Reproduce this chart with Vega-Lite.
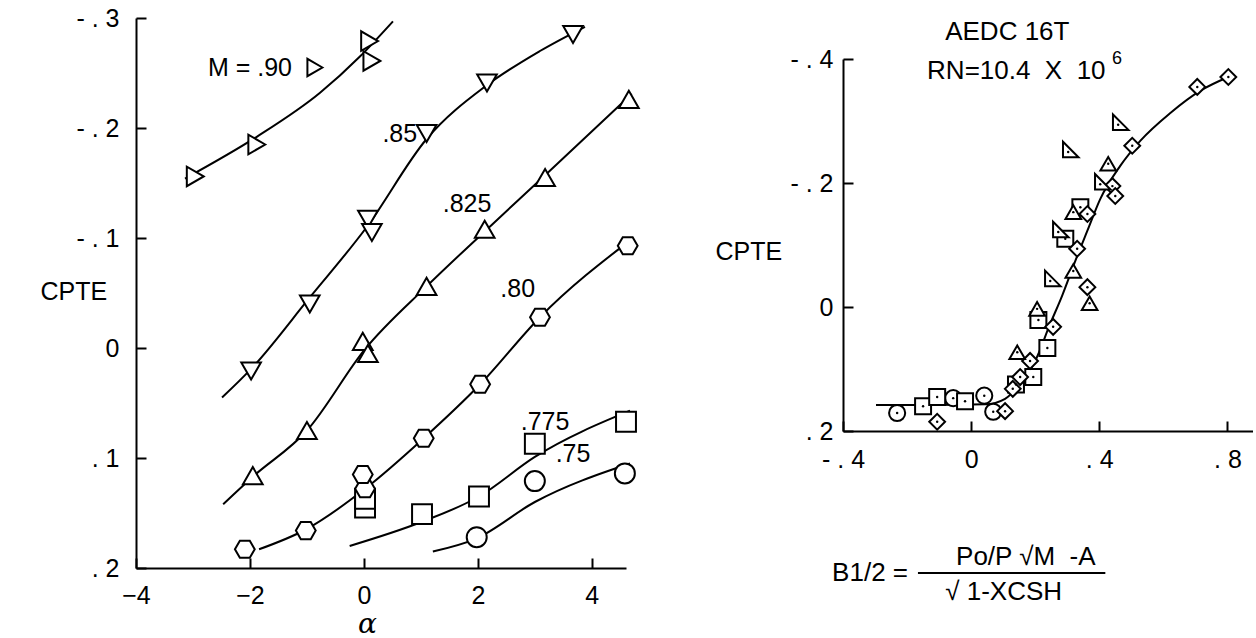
{
  "$schema": "https://vega.github.io/schema/vega-lite/v6.json",
  "background": "white",
  "padding": {"left": 40, "top": 6, "right": 0, "bottom": 0},
  "config": {
    "view": {"stroke": null},
    "font": "Liberation Sans",
    "axis": {
      "domainColor": "black", "domainWidth": 2,
      "tickColor": "black", "tickWidth": 2,
      "labelColor": "black", "labelFont": "Liberation Sans", "labelFontSize": 25,
      "grid": false, "labelFlush": false, "labelOverlap": false,
      "titleColor": "black", "titleFont": "Liberation Sans", "titleFontSize": 25, "titleFontWeight": "normal"
    }
  },
  "resolve": {"scale": {"shape": "independent", "size": "independent"}},
  "datasets": {
    "leftPts": [
      {"a": -2.96, "cpte": -0.156, "m": ".90"},
      {"a": -1.88, "cpte": -0.185, "m": ".90"},
      {"a": 0.1, "cpte": -0.279, "m": ".90"},
      {"a": 0.14, "cpte": -0.261, "m": ".90"},
      {"a": -1.98, "cpte": 0.021, "m": ".85"},
      {"a": -0.95, "cpte": -0.04, "m": ".85"},
      {"a": 0.07, "cpte": -0.117, "m": ".85"},
      {"a": 0.14, "cpte": -0.105, "m": ".85"},
      {"a": 1.1, "cpte": -0.195, "m": ".85"},
      {"a": 2.16, "cpte": -0.241, "m": ".85"},
      {"a": 3.67, "cpte": -0.285, "m": ".85"},
      {"a": -1.95, "cpte": 0.116, "m": ".825"},
      {"a": -1.0, "cpte": 0.075, "m": ".825"},
      {"a": -0.02, "cpte": -0.006, "m": ".825"},
      {"a": 0.07, "cpte": 0.005, "m": ".825"},
      {"a": 1.1, "cpte": -0.056, "m": ".825"},
      {"a": 2.12, "cpte": -0.108, "m": ".825"},
      {"a": 3.18, "cpte": -0.155, "m": ".825"},
      {"a": 4.65, "cpte": -0.226, "m": ".825"},
      {"a": -2.09, "cpte": 0.183, "m": ".80"},
      {"a": -1.02, "cpte": 0.166, "m": ".80"},
      {"a": 0.02, "cpte": 0.145, "m": ".775"},
      {"a": 0.02, "cpte": 0.137, "m": ".775"},
      {"a": 0.02, "cpte": 0.128, "m": ".80"},
      {"a": -0.02, "cpte": 0.115, "m": ".80"},
      {"a": 1.05, "cpte": 0.082, "m": ".80"},
      {"a": 2.04, "cpte": 0.033, "m": ".80"},
      {"a": 3.09, "cpte": -0.028, "m": ".80"},
      {"a": 4.63, "cpte": -0.093, "m": ".80"},
      {"a": 1.02, "cpte": 0.151, "m": ".775"},
      {"a": 2.02, "cpte": 0.135, "m": ".775"},
      {"a": 3.0, "cpte": 0.087, "m": ".775"},
      {"a": 4.6, "cpte": 0.067, "m": ".775"},
      {"a": 1.98, "cpte": 0.172, "m": ".75"},
      {"a": 3.0, "cpte": 0.121, "m": ".75"},
      {"a": 4.58, "cpte": 0.114, "m": ".75"}
    ],
    "leftKey": [
      {"a": -0.86, "cpte": -0.255, "m": ".90"}
    ],
    "leftCurves": [
      {"a": -3.14, "cpte": -0.154, "m": ".90"},
      {"a": -1.88, "cpte": -0.192, "m": ".90"},
      {"a": -0.77, "cpte": -0.232, "m": ".90"},
      {"a": -0.07, "cpte": -0.265, "m": ".90"},
      {"a": 0.51, "cpte": -0.297, "m": ".90"},
      {"a": -2.49, "cpte": 0.045, "m": ".85"},
      {"a": -1.98, "cpte": 0.019, "m": ".85"},
      {"a": -0.95, "cpte": -0.046, "m": ".85"},
      {"a": 0.05, "cpte": -0.11, "m": ".85"},
      {"a": 1.1, "cpte": -0.19, "m": ".85"},
      {"a": 2.16, "cpte": -0.239, "m": ".85"},
      {"a": 3.09, "cpte": -0.27, "m": ".85"},
      {"a": 3.88, "cpte": -0.292, "m": ".85"},
      {"a": -2.47, "cpte": 0.142, "m": ".825"},
      {"a": -1.95, "cpte": 0.117, "m": ".825"},
      {"a": -1.0, "cpte": 0.075, "m": ".825"},
      {"a": 0.02, "cpte": 0.001, "m": ".825"},
      {"a": 1.1, "cpte": -0.056, "m": ".825"},
      {"a": 2.12, "cpte": -0.106, "m": ".825"},
      {"a": 3.18, "cpte": -0.157, "m": ".825"},
      {"a": 4.7, "cpte": -0.231, "m": ".825"},
      {"a": -1.84, "cpte": 0.183, "m": ".80"},
      {"a": -1.02, "cpte": 0.165, "m": ".80"},
      {"a": 0.02, "cpte": 0.128, "m": ".80"},
      {"a": 1.05, "cpte": 0.082, "m": ".80"},
      {"a": 2.04, "cpte": 0.033, "m": ".80"},
      {"a": 3.09, "cpte": -0.028, "m": ".80"},
      {"a": 4.7, "cpte": -0.099, "m": ".80"},
      {"a": -0.25, "cpte": 0.18, "m": ".775"},
      {"a": 1.02, "cpte": 0.158, "m": ".775"},
      {"a": 2.02, "cpte": 0.135, "m": ".775"},
      {"a": 3.0, "cpte": 0.099, "m": ".775"},
      {"a": 4.67, "cpte": 0.057, "m": ".775"},
      {"a": 1.21, "cpte": 0.185, "m": ".75"},
      {"a": 1.98, "cpte": 0.173, "m": ".75"},
      {"a": 3.0, "cpte": 0.14, "m": ".75"},
      {"a": 4.67, "cpte": 0.105, "m": ".75"}
    ],
    "leftLabels": [
      {"a": -2.0, "cpte": -0.255, "label": "M = .90"},
      {"a": 0.63, "cpte": -0.195, "label": ".85"},
      {"a": 1.81, "cpte": -0.131, "label": ".825"},
      {"a": 2.7, "cpte": -0.054, "label": ".80"},
      {"a": 3.18, "cpte": 0.067, "label": ".775"},
      {"a": 3.67, "cpte": 0.096, "label": ".75"}
    ],
    "rightPts": [
      {"b": -0.231, "cpte": 0.171, "s": "circle"},
      {"b": -0.056, "cpte": 0.147, "s": "circle"},
      {"b": 0.041, "cpte": 0.143, "s": "circle"},
      {"b": 0.069, "cpte": 0.169, "s": "circle"},
      {"b": -0.15, "cpte": 0.16, "s": "square"},
      {"b": -0.106, "cpte": 0.145, "s": "square"},
      {"b": -0.019, "cpte": 0.152, "s": "square"},
      {"b": 0.14, "cpte": 0.125, "s": "square"},
      {"b": 0.194, "cpte": 0.113, "s": "square"},
      {"b": 0.238, "cpte": 0.066, "s": "square"},
      {"b": 0.21, "cpte": 0.021, "s": "square"},
      {"b": 0.341, "cpte": -0.161, "s": "square"},
      {"b": 0.294, "cpte": -0.11, "s": "square"},
      {"b": -0.106, "cpte": 0.185, "s": "diamond"},
      {"b": 0.106, "cpte": 0.168, "s": "diamond"},
      {"b": 0.13, "cpte": 0.132, "s": "diamond"},
      {"b": 0.153, "cpte": 0.113, "s": "diamond"},
      {"b": 0.184, "cpte": 0.087, "s": "diamond"},
      {"b": 0.256, "cpte": 0.032, "s": "diamond"},
      {"b": 0.503, "cpte": -0.26, "s": "diamond"},
      {"b": 0.441, "cpte": -0.195, "s": "diamond"},
      {"b": 0.45, "cpte": -0.179, "s": "diamond"},
      {"b": 0.363, "cpte": -0.15, "s": "diamond"},
      {"b": 0.331, "cpte": -0.094, "s": "diamond"},
      {"b": 0.363, "cpte": -0.032, "s": "diamond"},
      {"b": 0.706, "cpte": -0.355, "s": "diamond"},
      {"b": 0.803, "cpte": -0.371, "s": "diamond"},
      {"b": 0.144, "cpte": 0.073, "s": "triangle"},
      {"b": 0.206, "cpte": 0.003, "s": "triangle"},
      {"b": 0.428, "cpte": -0.231, "s": "triangle"},
      {"b": 0.319, "cpte": -0.153, "s": "triangle"},
      {"b": 0.319, "cpte": -0.058, "s": "triangle"},
      {"b": 0.37, "cpte": -0.006, "s": "triangle"},
      {"b": 0.247, "cpte": -0.042, "s": "rtri"},
      {"b": 0.459, "cpte": -0.294, "s": "rtri"},
      {"b": 0.303, "cpte": -0.25, "s": "rtri"},
      {"b": 0.403, "cpte": -0.198, "s": "rtri"},
      {"b": 0.272, "cpte": -0.121, "s": "rtri"}
    ],
    "rightCurve": [
      {"b": -0.297, "cpte": 0.158},
      {"b": -0.128, "cpte": 0.158},
      {"b": 0.044, "cpte": 0.157},
      {"b": 0.106, "cpte": 0.148},
      {"b": 0.153, "cpte": 0.124},
      {"b": 0.2, "cpte": 0.087},
      {"b": 0.247, "cpte": 0.027},
      {"b": 0.284, "cpte": -0.018},
      {"b": 0.325, "cpte": -0.074},
      {"b": 0.363, "cpte": -0.123},
      {"b": 0.403, "cpte": -0.174},
      {"b": 0.466, "cpte": -0.228},
      {"b": 0.528, "cpte": -0.268},
      {"b": 0.622, "cpte": -0.313},
      {"b": 0.716, "cpte": -0.349},
      {"b": 0.803, "cpte": -0.371}
    ],
    "rightText": [
      {"b": -0.081, "cpte": -0.444, "label": "AEDC 16T"},
      {"b": -0.1375, "cpte": -0.381, "label": "RN=10.4\u00a0 X\u00a0 10"},
      {"b": -0.434, "cpte": 0.429, "label": "B1/2 ="},
      {"b": -0.047, "cpte": 0.403, "label": "Po/P \u221aM\u00a0 -A"},
      {"b": -0.081, "cpte": 0.46, "label": "\u221a 1-XCSH"}
    ],
    "rightSup": [
      {"b": 0.44, "cpte": -0.4, "label": "6"}
    ],
    "rightFrac": [
      {"b": -0.166, "b2": 0.419, "cpte": 0.429}
    ]
  },
  "hconcat": [
    {
      "width": 490,
      "height": 550,
      "encoding": {
        "x": {
          "field": "a", "type": "quantitative",
          "scale": {"domain": [-4, 4.6], "nice": false, "zero": false},
          "axis": {
            "values": [-4, -2, 0, 2, 4], "format": "d", "tickSize": -10, "tickWidth": 2, "tickColor": "black", "labelPadding": 25,
            "title": "α", "titleFont": "DejaVu Serif", "titleFontStyle": "italic", "titleFontSize": 28,
            "titleX": 231, "titleY": 56, "titleAlign": "center", "titleBaseline": "middle"
          }
        },
        "y": {
          "field": "cpte", "type": "quantitative",
          "scale": {"domain": [-0.3, 0.2], "reverse": true, "nice": false, "zero": false},
          "axis": {
            "values": [-0.3, -0.2, -0.1, 0, 0.1, 0.2], "tickSize": -10, "tickWidth": 2, "tickColor": "black", "labelPadding": 27,
            "labelExpr": "datum.value == 0 ? '0' : (datum.value < 0 ? '- . ' : '. ') + replace(format(abs(datum.value), '.1f'), '0.', '')",
            "title": "CPTE", "titleAngle": 0, "titleX": -96, "titleY": 273, "titleAlign": "left", "titleBaseline": "middle"
          }
        }
      },
      "layer": [
        {
          "data": {"name": "leftCurves"},
          "mark": {"type": "line", "interpolate": "monotone", "color": "black", "strokeWidth": 2},
          "encoding": {"detail": {"field": "m", "type": "nominal"}}
        },
        {
          "data": {"name": "leftPts"},
          "mark": {"type": "point", "filled": true, "fill": "white", "stroke": "black", "strokeWidth": 2, "opacity": 1},
          "encoding": {
            "shape": {"field": "m", "type": "nominal", "legend": null,
              "scale": {"domain": [".90", ".85", ".825", ".80", ".775", ".75"],
                "range": ["triangle-right", "triangle-down", "triangle-up", "M-1,0L-0.5,-0.866L0.5,-0.866L1,0L0.5,0.866L-0.5,0.866Z", "square", "circle"]}},
            "size": {"field": "m", "type": "nominal", "legend": null,
              "scale": {"domain": [".90", ".85", ".825", ".80", ".775", ".75"], "range": [380, 400, 420, 420, 170, 200]}}
          }
        },
        {
          "data": {"name": "leftKey"},
          "mark": {"type": "point", "shape": "triangle-right", "size": 300, "filled": true, "fill": "white", "stroke": "black", "strokeWidth": 2, "opacity": 1},
          "encoding": {}
        },
        {
          "data": {"name": "leftLabels"},
          "mark": {"type": "text", "font": "Liberation Sans", "fontSize": 25, "color": "black", "align": "center", "baseline": "middle"},
          "encoding": {"text": {"field": "label"}}
        }
      ]
    },
    {
      "vconcat": [
        {
          "width": 410,
          "height": 41,
          "data": {"values": [{}]},
          "mark": {"type": "text"},
          "encoding": {"text": {"value": ""}}
        },
        {
          "width": 410,
          "height": 372,
          "encoding": {
            "x": {
              "field": "b", "type": "quantitative",
              "scale": {"domain": [-0.4, 0.88], "nice": false, "zero": false},
              "axis": {
                "values": [-0.4, 0, 0.4, 0.8], "tickSize": -10, "tickWidth": 2, "tickColor": "black", "labelPadding": 26, "title": null,
                "labelExpr": "datum.value == 0 ? '0' : (datum.value < 0 ? '- . ' : '. ') + replace(format(abs(datum.value), '.1f'), '0.', '')"
              }
            },
            "y": {
              "field": "cpte", "type": "quantitative",
              "scale": {"domain": [-0.4, 0.2], "reverse": true, "nice": false, "zero": false},
              "axis": {
                "values": [-0.4, -0.2, 0, 0.2], "tickSize": -10, "tickWidth": 2, "tickColor": "black", "labelPadding": 20,
                "labelExpr": "datum.value == 0 ? '0' : (datum.value < 0 ? '- . ' : '. ') + replace(format(abs(datum.value), '.1f'), '0.', '')",
                "title": "CPTE", "titleAngle": 0, "titleX": -128, "titleY": 192, "titleAlign": "left", "titleBaseline": "middle"
              }
            }
          },
          "layer": [
            {
              "data": {"name": "rightCurve"},
              "mark": {"type": "line", "interpolate": "monotone", "color": "black", "strokeWidth": 2},
              "encoding": {}
            },
            {
              "data": {"name": "rightPts"},
              "mark": {"type": "point", "filled": true, "fill": "white", "stroke": "black", "strokeWidth": 2, "opacity": 1},
              "encoding": {
                "shape": {"field": "s", "type": "nominal", "legend": null,
                  "scale": {"domain": ["circle", "square", "diamond", "triangle", "rtri"],
                    "range": ["circle", "square", "diamond", "triangle-up", "M-0.67,-1.33L-0.67,0.67L1.33,0.67Z"]}},
                "size": {"field": "s", "type": "nominal", "legend": null,
                  "scale": {"domain": ["circle", "square", "diamond", "triangle", "rtri"], "range": [260, 240, 420, 380, 260]}}
              }
            },
            {
              "data": {"name": "rightPts"},
              "mark": {"type": "point", "filled": true, "color": "black", "size": 6, "opacity": 1, "shape": "circle"},
              "encoding": {}
            },
            {
              "data": {"name": "rightText"},
              "mark": {"type": "text", "font": "Liberation Sans", "fontSize": 26, "color": "black", "align": "left", "baseline": "middle"},
              "encoding": {"text": {"field": "label"}}
            },
            {
              "data": {"name": "rightSup"},
              "mark": {"type": "text", "font": "Liberation Sans", "fontSize": 18, "color": "black", "align": "left", "baseline": "middle"},
              "encoding": {"text": {"field": "label"}}
            },
            {
              "data": {"name": "rightFrac"},
              "mark": {"type": "rule", "color": "black", "strokeWidth": 2},
              "encoding": {"x2": {"field": "b2"}}
            }
          ]
        }
      ],
      "spacing": 0,
      "bounds": "flush"
    }
  ],
  "spacing": 217,
  "bounds": "flush"
}
